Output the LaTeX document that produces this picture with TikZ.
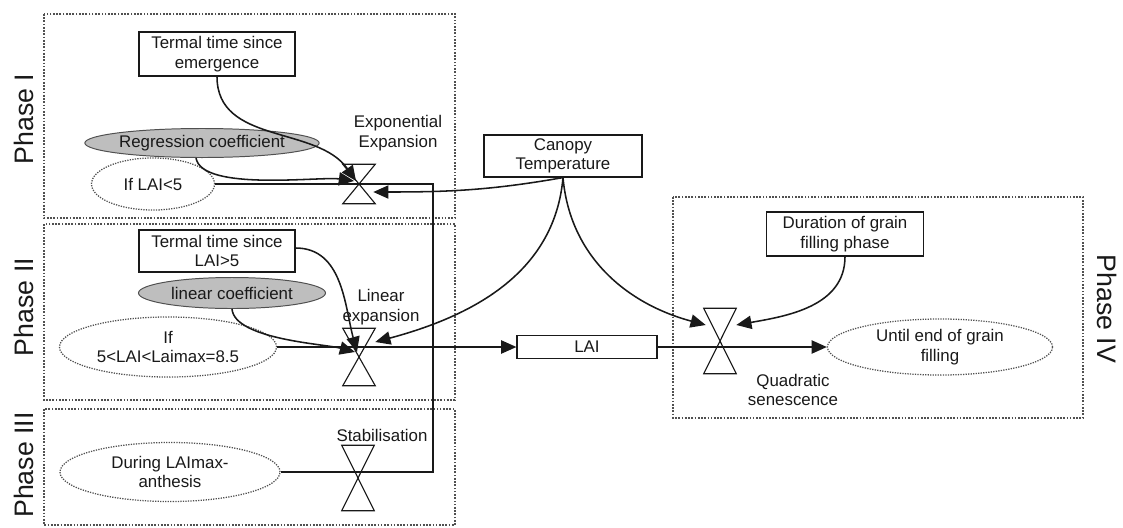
\documentclass[tikz,border=0pt]{standalone}
\usepackage{fontspec}
\setmainfont{Liberation Sans}
\usetikzlibrary{positioning,arrows.meta,calc,shapes.geometric}
\definecolor{inkc}{RGB}{25,25,25}
\definecolor{dotc}{RGB}{80,80,80}
\definecolor{coeffg}{RGB}{190,190,190}

\begin{document}
\begin{tikzpicture}[
  x=0.025cm, y=0.025cm,
  font=\fontsize{12}{14}\selectfont, color=inkc,
  phasebox/.style={draw=dotc, line width=1.2pt, dash pattern=on 1.2pt off 1.1pt},
  phlbl/.style={font=\fontsize{19}{21}\selectfont},
  varbox/.style={draw=inkc, line width=0.8pt, fill=white, align=center, inner sep=1pt},
  coef/.style={ellipse, draw=dotc, fill=coeffg, line width=0.7pt, inner sep=0pt, align=center},
  cond/.style={ellipse, draw=dotc, line width=0.9pt, dash pattern=on 0.9pt off 0.9pt,
               inner sep=0pt, align=center},
  valve/.style={inner sep=0pt, minimum width=0.8cm},
  vshape/.style={draw=inkc, line width=0.8pt, line join=miter},
  vlbl/.style={align=center, inner sep=1pt},
  flow/.style={draw=inkc, line width=1.1pt},
  infl/.style={-{Triangle[length=3.8mm,width=3.3mm]}, draw=inkc, line width=1.1pt},
]
\useasboundingbox (0,0) rectangle (1123,-527);

% ---------- phase frames ----------
\draw[phasebox] (44,-14) rectangle (455,-218);
\draw[phasebox] (44,-224) rectangle (455,-400);
\draw[phasebox] (44,-409) rectangle (455,-525);
\draw[phasebox] (673,-197) rectangle (1083,-418);

\node[phlbl, rotate=90] (p1) at (24,-119) {Phase I};
\node[phlbl, rotate=90] (p2) at (24,-307) {Phase II};
\node[phlbl, rotate=90] (p3) at (24,-465) {Phase III};
\node[phlbl, rotate=-90] (p4) at (1107,-309) {Phase IV};

% ---------- phase I: exponential expansion ----------
\node[varbox, minimum width=3.9cm, minimum height=1.1cm] (tte) at (217,-54)
  {Termal time since\\emergence};
\node[coef, minimum width=4.675cm, minimum height=0.725cm] (regr) at (202,-143)
  {Regression coefficient};
\node[cond, minimum width=3.075cm, minimum height=1.3cm] (iflai) at (153,-184)
  {If LAI<5};
\node[valve, minimum height=0.975cm] (v1) at (359,-184) {};
\node[vlbl] (lexp) at (398,-133) {Exponential\\Expansion};

% ---------- phase II: linear expansion ----------
\node[varbox, minimum width=3.9cm, minimum height=1.05cm] (ttl) at (217,-251)
  {Termal time since\\LAI>5};
\node[coef, minimum width=4.675cm, minimum height=0.775cm] (linc) at (232,-293)
  {linear coefficient};
\node[cond, minimum width=5.425cm, minimum height=1.5cm] (ifmid) at (168,-347)
  {If\\5<LAI<Laimax=8.5};
\node[valve, minimum height=1.425cm] (v2) at (359,-357) {};
\node[vlbl] (llin) at (381,-307) {Linear\\expansion};

% ---------- phase III: stabilisation ----------
\node[cond, minimum width=5.5cm, minimum height=1.475cm] (during) at (170,-472)
  {During LAImax-\\anthesis};
\node[valve, minimum height=1.625cm] (v3) at (358,-478) {};
\node[vlbl] (lstab) at (382,-435) {Stabilisation};

% ---------- driver and state ----------
\node[varbox, minimum width=3.95cm, minimum height=1.05cm] (canopy) at (563,-156)
  {Canopy\\Temperature};
\node[varbox, minimum width=3.5cm, minimum height=0.575cm] (lai) at (587,-347) {LAI};

% ---------- phase IV: quadratic senescence ----------
\node[varbox, minimum width=3.925cm, minimum height=1.1cm] (dur) at (845,-234)
  {Duration of grain\\filling phase};
\node[valve, minimum height=1.625cm] (v4) at (720,-341) {};
\node[vlbl] (lquad) at (793,-390) {Quadratic\\senescence};
\node[cond, minimum width=5.625cm, minimum height=1.4cm] (until) at (940,-347)
  {Until end of grain\\filling};

% ---------- valves ----------
\draw[vshape] (v1.north west) -- (v1.north east) -- (v1.south west) -- (v1.south east) -- cycle;
\draw[vshape] (v2.north west) -- (v2.north east) -- (v2.south west) -- (v2.south east) -- cycle;
\draw[vshape] (v3.north west) -- (v3.north east) -- (v3.south west) -- (v3.south east) -- cycle;
\draw[vshape] (v4.north west) -- (v4.north east) -- (v4.south west) -- (v4.south east) -- cycle;

% ---------- flows ----------
\coordinate (jt) at (433,-184);
\coordinate (jb) at (433,-472);
\draw[flow] (iflai.east) -- (jt) -- (jb) -- (during.east);
\draw[infl] (ifmid.east) -- (lai.west);
\draw[infl] (lai.east) -- (until.west);

% ---------- influences ----------
\draw[infl] (tte.south) to[out=-90, in=125] ($(v1.center)+(-3,3)$);
\draw[infl] ($(regr.south)+(-6,0)$) to[out=-80, in=172, looseness=0.55] ($(v1.center)+(-5,3)$);
\draw[infl] ($(ttl.east)+(0,3)$) to[out=0, in=105] ($(v2.center)+(-2,5)$);
\draw[infl] (linc.south) to[out=-85, in=165, looseness=0.6] ($(v2.center)+(-4,5)$);
\draw[infl] (canopy.south) to[out=190, in=0] ($(v1.east)+(-2,-8)$);
\draw[infl] (canopy.south) to[out=-95, in=15] ($(v2.east)+(0,15)$);
\draw[infl] (canopy.south) to[out=-85, in=165] ($(v4.west)+(2,16)$);
\draw[infl] (dur.south) to[out=-90, in=10] ($(v4.east)+(0,16)$);

\end{tikzpicture}
\end{document}
